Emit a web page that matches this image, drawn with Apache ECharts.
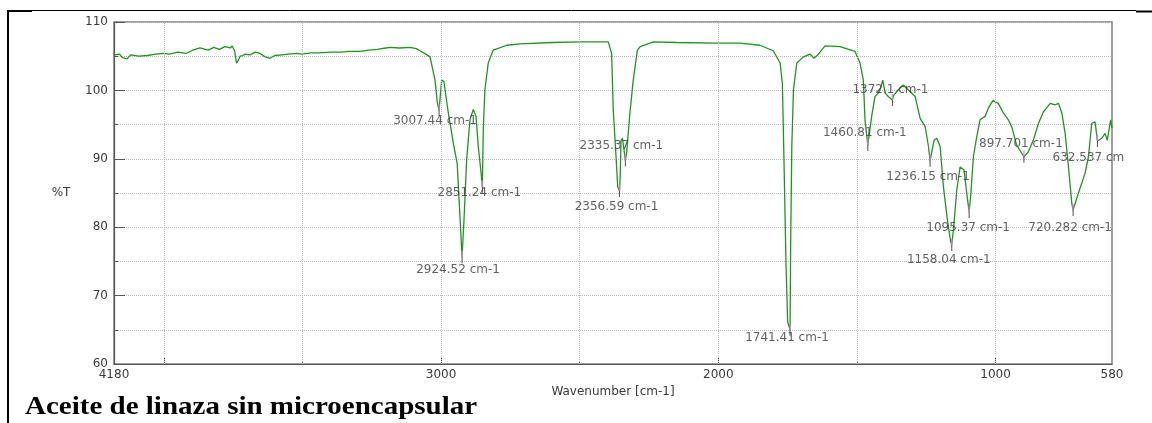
<!DOCTYPE html>
<html>
<head>
<meta charset="utf-8">
<title>Aceite de linaza sin microencapsular</title>
<script src="https://cdn.jsdelivr.net/npm/echarts@6/dist/echarts.min.js"></script>
<style>
  html, body { margin: 0; padding: 0; background: #fff; }
  #chart { width: 1152px; height: 423px; }
</style>
</head>
<body>
<div id="chart"></div>
<script>
// spectrum, wavenumber (cm-1) descending
const wavenumbers = [
  4180, 4160, 4150, 4133, 4120, 4090, 4060, 4030, 4003, 3980, 3950, 3920, 3900, 3870, 3840, 3820,
  3800, 3780, 3760, 3754, 3745, 3738, 3733, 3725, 3715, 3707, 3690, 3670, 3653, 3635, 3617, 3600,
  3575, 3550, 3520, 3502, 3470, 3440, 3400, 3360, 3330, 3293, 3260, 3230, 3200, 3184, 3150, 3112,
  3090, 3076, 3055, 3040, 3034, 3022, 3014, 3007.44, 2998, 2990, 2974, 2956, 2942, 2932, 2924.52, 2917,
  2908, 2896, 2884, 2874, 2866, 2856, 2851.24, 2848, 2842, 2830, 2812, 2763, 2715, 2600, 2499, 2397,
  2391, 2385, 2379, 2369, 2363, 2356.59, 2354, 2351, 2346, 2335.37, 2331, 2319, 2307, 2292, 2282, 2234,
  2150, 2018, 1922, 1850, 1802, 1777, 1769, 1763, 1756, 1750, 1741.41, 1739, 1735, 1729, 1717, 1693,
  1669, 1655, 1639, 1615, 1561, 1507, 1489, 1477, 1471, 1460.81, 1447, 1435, 1423, 1415, 1407, 1398,
  1387, 1372.1, 1369, 1351, 1333, 1315, 1290, 1272, 1254, 1242, 1236.15, 1222, 1212, 1200, 1188, 1174,
  1162, 1158.04, 1152, 1140, 1128, 1122, 1114, 1104, 1095.37, 1089, 1080, 1068, 1056, 1038, 1026, 1010,
  990, 972, 954, 942, 924, 897.701, 882, 864, 845, 827, 803, 785, 773, 761, 749, 737,
  725, 720.282, 701, 677, 665, 653, 641, 632.537, 617, 605, 597, 585, 580,
];
const transmittance = [
  105.2, 105.3, 104.8, 104.6, 105.2, 105.0, 105.1, 105.3, 105.4, 105.3, 105.6, 105.4, 105.8, 106.2, 105.9, 106.3,
  106.0, 106.4, 106.2, 106.5, 105.8, 104.0, 104.3, 105.0, 105.1, 105.3, 105.2, 105.6, 105.4, 104.9, 104.7, 105.1,
  105.2, 105.3, 105.4, 105.3, 105.5, 105.5, 105.6, 105.6, 105.7, 105.7, 105.9, 106.0, 106.2, 106.3, 106.2, 106.3,
  106.1, 105.8, 105.3, 104.9, 104.7, 101.5, 98.3, 97.1, 101.5, 101.3, 96.7, 92.3, 89.3, 81.5, 75.6, 81.5,
  89.8, 95.7, 97.2, 96.2, 91.8, 88.0, 85.9, 94.2, 100.1, 104.0, 105.9, 106.6, 106.8, 107.0, 107.1, 107.1,
  107.0, 105.4, 97.1, 90.3, 85.9, 85.3, 87.4, 92.7, 93.0, 89.8, 90.8, 96.7, 101.5, 105.9, 106.4, 107.1,
  107.0, 106.9, 106.9, 106.6, 105.8, 104.0, 101.0, 89.3, 74.7, 66.2, 65.0, 78.1, 91.8, 100.1, 104.0, 104.9,
  105.3, 104.7, 105.3, 106.5, 106.4, 105.7, 104.0, 101.5, 95.7, 92.0, 96.2, 99.1, 99.6, 100.3, 101.5, 99.6,
  99.1, 98.6, 99.2, 100.1, 100.8, 100.1, 99.1, 95.9, 94.7, 91.8, 89.7, 92.7, 93.0, 91.8, 85.9, 81.1,
  77.9, 77.4, 79.6, 85.4, 88.8, 88.9, 88.4, 85.0, 82.2, 85.0, 90.3, 93.2, 95.7, 96.2, 97.4, 98.5,
  98.1, 96.7, 95.7, 94.7, 92.0, 90.3, 91.0, 92.7, 95.2, 96.9, 98.1, 97.9, 98.1, 96.7, 93.7, 88.8,
  83.5, 82.5, 85.0, 87.9, 90.3, 95.2, 95.4, 92.6, 93.0, 93.7, 92.7, 95.7, 94.5,
];

// picked peaks
const peakWavenumbers = [3007.44, 2924.52, 2851.24, 2356.59, 2335.37, 1741.41, 1460.81, 1372.1, 1236.15, 1158.04, 1095.37, 897.701, 720.282, 632.537];
const peakTransmittance = [97.1, 75.6, 85.9, 85.3, 89.8, 65.0, 92.0, 98.6, 89.7, 77.4, 82.2, 90.3, 82.5, 92.6];
const peakLabels = [
  '3007.44 cm-1', '2924.52 cm-1', '2851.24 cm-1', '2356.59 cm-1', '2335.37 cm-1', '1741.41 cm-1', '1460.81 cm-1',
  '1372.1 cm-1', '1236.15 cm-1', '1158.04 cm-1', '1095.37 cm-1', '897.701 cm-1', '720.282 cm-1', '632.537 cm',
];

// axis ticks
const xLabelValues = [4180, 3000, 2000, 1000, 580];
const xMajorTicks = [4000, 3000, 2000, 1000];
const xMinorTicks = [3500, 2500, 1500];
const xGridValues = [4000, 3500, 3000, 2500, 2000, 1500, 1000];

// where each peak label sits relative to its peak, px
const labelShift = [[-4, 11], [-4, 13], [-3, 6], [-3, 16], [-4, -14], [-3, 8], [-3, -12], [-2, -10], [-2, 16], [-3, 15], [-1, 16], [-3, -13], [-3, 18], [-9, 17]];

const FONT = 'DejaVu Sans';
const TEXT_COLOR = '#3a3a3a';
const GRID_COLOR = '#bdbdbd';

const spectrum = wavenumbers.map((w, i) => [w, transmittance[i]]);
const peaks = peakWavenumbers.map((w, i) => [w, peakTransmittance[i]]);

const chart = echarts.init(document.getElementById('chart'), null, { renderer: 'canvas' });

const option = {
  animation: false,
  backgroundColor: '#fff',
  grid: {
    left: 114,
    right: 40,
    top: 22,
    bottom: 59,
    show: true,
    borderColor: '#808080',
    borderWidth: 1.5,
  },
  xAxis: [
    {
      type: 'value',
      min: 580,
      max: 4180,
      inverse: true,
      name: 'Wavenumber [cm-1]',
      nameLocation: 'middle',
      nameGap: 20,
      nameTextStyle: { fontFamily: FONT, fontSize: 12, color: TEXT_COLOR },
      axisLine: { lineStyle: { color: '#555', width: 1.2 } },
      axisTick: { inside: true, length: 6, customValues: xMajorTicks, lineStyle: { color: '#555' } },
      axisLabel: {
        customValues: xLabelValues,
        margin: 5,
        fontFamily: FONT,
        fontSize: 12,
        color: TEXT_COLOR,
        formatter: (v) => String(v),
      },
      splitLine: { show: false },
    },
    {
      type: 'value',
      min: 580,
      max: 4180,
      inverse: true,
      position: 'bottom',
      axisLine: { show: false },
      axisTick: { inside: true, length: 3, customValues: xMinorTicks, lineStyle: { color: '#555' } },
      axisLabel: { show: false },
      splitLine: { show: false },
    },
  ],
  yAxis: {
    type: 'value',
    min: 60,
    max: 110,
    interval: 10,
    name: '%T',
    nameLocation: 'middle',
    nameRotate: 0,
    nameGap: 53,
    nameTextStyle: { fontFamily: FONT, fontSize: 12, color: TEXT_COLOR, align: 'center' },
    axisLine: { show: true, lineStyle: { color: '#555', width: 1.2 } },
    axisTick: { show: true, inside: true, length: 11, lineStyle: { color: '#555' } },
    minorTick: { show: true, splitNumber: 2, length: 4, lineStyle: { color: '#555' } },
    axisLabel: { margin: 6, fontFamily: FONT, fontSize: 12, color: TEXT_COLOR },
    splitLine: { lineStyle: { color: GRID_COLOR, type: 'dotted' } },
    minorSplitLine: { show: true, lineStyle: { color: GRID_COLOR, type: 'dotted' } },
  },
  series: [
    {
      type: 'line',
      data: spectrum,
      showSymbol: false,
      z: 3,
      lineStyle: { color: '#1f951f', width: 1.3 },
      markLine: {
        silent: true,
        symbol: 'none',
        label: { show: false },
        lineStyle: { color: GRID_COLOR, type: 'dotted', width: 1 },
        data: xGridValues.map((v) => ({ xAxis: v })),
      },
    },
    {
      // pink pick marker
      type: 'scatter',
      data: peaks,
      symbol: 'rect',
      symbolSize: [1.5, 7],
      symbolOffset: [0, -3],
      itemStyle: { color: '#e27be2' },
      z: 4,
    },
    {
      // black tick under each pick
      type: 'scatter',
      data: peaks,
      symbol: 'rect',
      symbolSize: [1, 6],
      symbolOffset: [0, 3],
      itemStyle: { color: '#222' },
      z: 4,
    },
    {
      type: 'scatter',
      data: peaks.map((p, i) => ({
        value: p,
        name: peakLabels[i],
        label: { offset: labelShift[i] },
      })),
      symbolSize: 0.1,
      itemStyle: { color: 'rgba(0,0,0,0)' },
      z: 5,
      label: {
        show: true,
        position: 'inside',
        formatter: (params) => params.name,
        fontFamily: FONT,
        fontSize: 12,
        color: TEXT_COLOR,
      },
    },
  ],
  graphic: [
    // frame of the page the figure sits in
    { type: 'line', shape: { x1: 7, y1: 10.5, x2: 1136, y2: 10.5 }, style: { stroke: '#000', lineWidth: 1 } },
    { type: 'line', shape: { x1: 7, y1: 11, x2: 32, y2: 11 }, style: { stroke: '#000', lineWidth: 2 } },
    { type: 'line', shape: { x1: 1136, y1: 11.5, x2: 1152, y2: 11.5 }, style: { stroke: '#000', lineWidth: 2 } },
    { type: 'line', shape: { x1: 8, y1: 10, x2: 8, y2: 423 }, style: { stroke: '#000', lineWidth: 2 } },
    {
      type: 'text',
      x: 25,
      y: 408,
      scaleX: 1.16,
      style: {
        text: 'Aceite de linaza sin microencapsular',
        font: 'bold 25px "Liberation Serif", "Times New Roman", serif',
        fill: '#000',
        verticalAlign: 'middle',
      },
    },
  ],
};

chart.setOption(option);
</script>
</body>
</html>
